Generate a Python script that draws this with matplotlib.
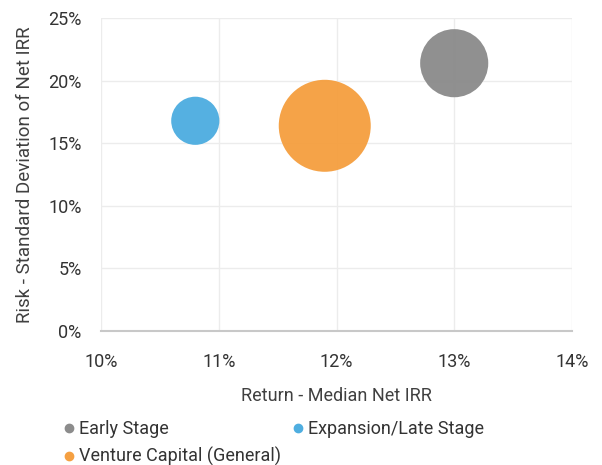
import matplotlib.pyplot as plt
from matplotlib.lines import Line2D
from matplotlib.ticker import FuncFormatter

plt.rcParams['font.family'] = ['Roboto', 'DejaVu Sans']

names = ['Early Stage', 'Expansion/Late Stage', 'Venture Capital (General)']
ret = [13.0, 10.8, 11.9]      # median net IRR, %
risk = [21.4, 16.8, 16.4]     # std dev of net IRR, %
bubble = [2.0, 1.0, 3.65]     # relative bubble size (area)
colors = ['#8c8c8c', '#4faee0', '#f5a042']

fig = plt.figure(figsize=(6.02, 4.65), dpi=100)
ax = fig.add_axes([0.168, 0.288, 0.782, 0.673])

# largest bubble ~92 px wide -> convert to points^2
max_d = 92 * 72 / 100
sizes = [(max_d ** 2) * b / max(bubble) for b in bubble]
ax.scatter(ret, risk, s=sizes, c=colors, alpha=0.97, linewidths=0, zorder=3)

ax.set_xlim(10, 14)
ax.set_ylim(0, 25)
ax.set_xticks([10, 11, 12, 13, 14])
ax.set_yticks([0, 5, 10, 15, 20, 25])
pct = FuncFormatter(lambda v, p: '%d%%' % v)
ax.xaxis.set_major_formatter(pct)
ax.yaxis.set_major_formatter(pct)
ax.grid(True, color='#ececec', linewidth=1, zorder=0)
for s in ['top', 'right', 'left']:
    ax.spines[s].set_visible(False)
ax.spines['bottom'].set_color('#c8c8c8')
ax.spines['bottom'].set_linewidth(1.5)
ax.tick_params(length=0, labelsize=13, colors='#333333')
ax.tick_params(axis='x', pad=16)
ax.tick_params(axis='y', pad=14)

ax.set_xlabel('Return - Median Net IRR', fontsize=13, color='#404040', labelpad=11)
ax.set_ylabel('Risk - Standard Deviation of Net IRR', fontsize=13.5, color='#404040', labelpad=10)

def mk(c):
    return Line2D([], [], marker='o', linestyle='', color=c, markersize=6)

leg_kw = dict(loc='upper left', frameon=False, fontsize=13, handlelength=0.8,
              handletextpad=0.15, labelspacing=0.48, borderaxespad=0, borderpad=0,
              labelcolor='#333333')
# left column: Early Stage, Venture Capital; right column: Expansion
fig.legend([mk(colors[0]), mk(colors[2])], [names[0], names[2]],
           bbox_to_anchor=(0.103, 0.096), **leg_kw)
fig.legend([mk(colors[1])], [names[1]], bbox_to_anchor=(0.483, 0.096), **leg_kw)

fig.savefig('out.png', dpi=100)
